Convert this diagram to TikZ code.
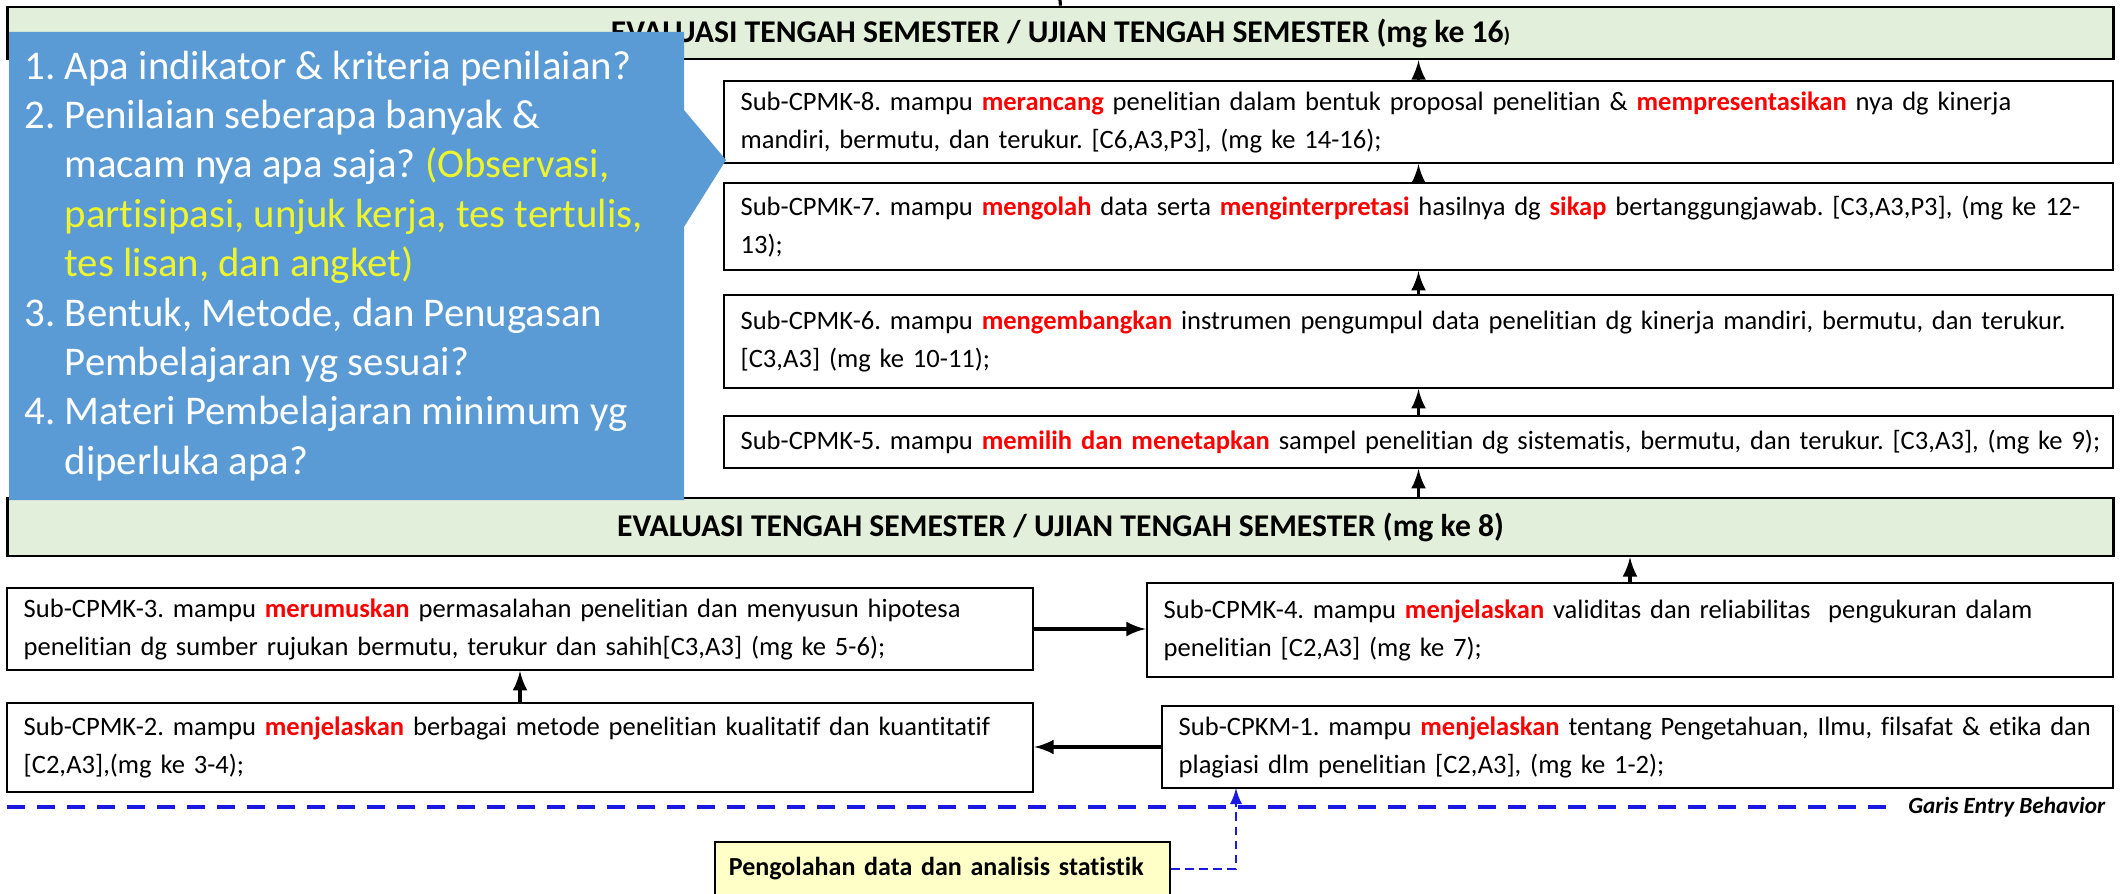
\documentclass[tikz,border=0pt]{standalone}
\usepackage{fontspec}
\setmainfont{Carlito}[Ligatures=NoCommon]
\frenchspacing
\definecolor{callblue}{RGB}{91,155,213}
\definecolor{askyellow}{RGB}{238,245,45}
\definecolor{bannergreen}{RGB}{226,239,218}
\definecolor{noteyellow}{RGB}{255,255,200}
\definecolor{entryblue}{RGB}{25,25,225}
\newcommand{\kw}[1]{\textcolor{red}{\textbf{#1}}}
\newcommand{\ind}{\hspace*{0.4cm}}
\tikzset{
  subbox/.style={draw, line width=0.6pt, fill=white, align=left, inner xsep=0.17cm, inner ysep=0pt, font=\fontsize{7.55}{10.8}\selectfont},
  banner/.style={draw, line width=0.7pt, fill=bannergreen, minimum width=21.05cm, font=\bfseries\fontsize{9}{11}\selectfont},
  flow/.style={->, >=latex, line width=0.9pt},
  feed/.style={->, >=latex, entryblue, line width=0.6pt, dash pattern=on 2.5pt off 1.5pt},
}
\begin{document}
\begin{tikzpicture}[x=0.01cm, y=-0.01cm]
    \clip (0,0) rectangle (2121,894);
    % evaluasi
    \node[banner, minimum height=0.52cm] (topban) at (1060.5,33) {EVALUASI TENGAH SEMESTER / UJIAN TENGAH SEMESTER (mg ke 16{\fontsize{6}{7}\selectfont )}};
    \node[banner, minimum height=0.58cm] (midban) at (1060.5,527) {EVALUASI TENGAH SEMESTER / UJIAN TENGAH SEMESTER (mg ke 8)};
    \draw[line width=0.9pt] (topban.north) -- (1060,0);
    % sub-cpmk 5-8
    \node[subbox, text width=13.55cm, minimum height=0.82cm] (box8) at (1418.5,122) {Sub-CPMK-8. mampu \kw{merancang} penelitian dalam bentuk proposal penelitian \& \kw{mempresentasikan} nya dg kinerja\\ mandiri, bermutu, dan terukur. [C6,A3,P3], (mg ke 14-16);};
    \node[subbox, text width=13.55cm, minimum height=0.87cm] (box7) at (1418.5,226.5) {Sub-CPMK-7. mampu \kw{mengolah} data serta \kw{menginterpretasi} hasilnya dg \kw{sikap} bertanggungjawab. [C3,A3,P3], (mg ke 12-\\ 13);};
    \node[subbox, text width=13.55cm, minimum height=0.93cm] (box6) at (1418.5,341.5) {Sub-CPMK-6. mampu \kw{mengembangkan} instrumen pengumpul data penelitian dg kinerja mandiri, bermutu, dan terukur.\\{}[C3,A3] (mg ke 10-11);};
    \node[subbox, text width=13.55cm, minimum height=0.52cm] (box5) at (1418.5,442) {\mbox{Sub-CPMK-5. mampu \kw{memilih dan menetapkan} sampel penelitian dg sistematis, bermutu, dan terukur. [C3,A3], (mg ke 9);}};
    % sub-cpmk 1-4
    \node[subbox, text width=9.92cm, minimum height=0.82cm] (box3) at (520,629) {Sub-CPMK-3. mampu \kw{merumuskan} permasalahan penelitian dan menyusun hipotesa\\ penelitian dg sumber rujukan bermutu, terukur dan sahih[C3,A3] (mg ke 5-6);};
    \node[subbox, text width=9.92cm, minimum height=0.89cm] (box2) at (520,747.5) {Sub-CPMK-2. mampu \kw{menjelaskan} berbagai metode penelitian kualitatif dan kuantitatif\\{}[C2,A3],(mg ke 3-4);};
    \node[subbox, text width=9.32cm, minimum height=0.94cm] (box4) at (1630,630) {Sub-CPMK-4. mampu \kw{menjelaskan} validitas dan reliabilitas\ \ pengukuran dalam\\ penelitian [C2,A3] (mg ke 7);};
    \node[subbox, text width=9.17cm, minimum height=0.82cm] (box1) at (1637.5,747) {Sub-CPKM-1. mampu \kw{menjelaskan} tentang Pengetahuan, Ilmu, filsafat \& etika dan\\ plagiasi dlm penelitian [C2,A3], (mg ke 1-2);};
    % arrows
    \foreach \lo/\hi in {box7/box8, box6/box7, box5/box6}{
      \draw[flow] (\lo.north) -- (\hi.south);
    }
    \draw[flow] (box8.north) -- (box8.north |- topban.south);
    \draw[flow] (box5.south |- midban.north) -- (box5.south);
    \draw[flow] (box4.north) -- (box4.north |- midban.south);
    \draw[flow] (box2.north) -- (box3.south);
    \draw[flow] (box3.east) -- (box3.east -| box4.west);
    \draw[flow] (box1.west) -- (box1.west -| box2.east);
    % callout
    \fill[callblue] (9,32) -- (684,32) -- (684,110) -- (726,160) -- (684,227) -- (684,500) -- (9,500) -- cycle;
    \node[anchor=north west, text=white, align=left, inner sep=0pt, font=\fontsize{11.6}{14.05}\selectfont] (ask) at (24,50) {1. Apa indikator \& kriteria penilaian?\\
      2. Penilaian seberapa banyak \&\\
      \ind macam nya apa saja? \textcolor{askyellow}{(Observasi,}\\
      \ind\textcolor{askyellow}{partisipasi, unjuk kerja, tes tertulis,}\\
      \ind\textcolor{askyellow}{tes lisan, dan angket)}\\
      3. Bentuk, Metode, dan Penugasan\\
      \ind Pembelajaran yg sesuai?\\
      4. Materi Pembelajaran minimum yg\\
      \ind diperluka apa?};
    % entry behavior
    \node[anchor=east, inner sep=0pt, font=\bfseries\itshape\fontsize{6.6}{8}\selectfont] (gline) at (2106,807) {Garis Entry Behavior};
    \draw[entryblue, line width=1.1pt, dash pattern=on 0.18cm off 0.12cm] (7,807) -- ([xshift=-0.17cm]gline.west);
    \node[draw, line width=0.6pt, fill=noteyellow, minimum width=4.55cm, minimum height=0.54cm, text width=4.27cm, inner xsep=0.14cm, align=left, font=\bfseries\fontsize{7.4}{9}\selectfont] (stat) at (942.5,869) {Pengolahan data dan analisis statistik};
    \coordinate (hook) at (1236,788);
    \draw[feed] (stat.east) -| (hook);
\end{tikzpicture}
\end{document}
